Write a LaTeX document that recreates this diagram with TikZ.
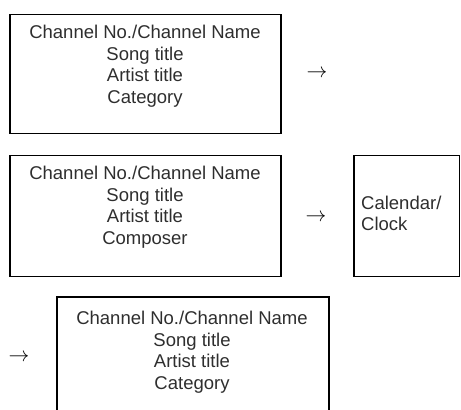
\documentclass[tikz,border=0pt]{standalone}
\usepackage{fontspec}
\setmainfont{Liberation Sans}
\begin{document}
\begin{tikzpicture}[x=1pt,y=-1pt,
  framebox/.style={draw=black,line width=1.9pt,rectangle,inner sep=0pt,anchor=north west},
  infotext/.style={inner sep=0pt,align=center,anchor=north,text=black!82,font=\fontsize{18.5}{21.7}\selectfont},
  sidetext/.style={inner sep=0pt,align=left,anchor=north west,text=black!82,font=\fontsize{18.5}{21}\selectfont},
  arrowsign/.style={inner sep=0pt,text=black,font=\fontsize{20}{22}\selectfont}]
\useasboundingbox (0,0) rectangle (461,410);
\clip (0,0) rectangle (461,410);
% boxes
\node[framebox,minimum width=271pt,minimum height=119pt] (b1) at (9.3,13.5) {};
\node[framebox,minimum width=271pt,minimum height=121pt] (b2) at (9.3,154.5) {};
\node[framebox,minimum width=105.5pt,minimum height=121pt] (b3) at (353,154.5) {};
\node[framebox,minimum width=272pt,minimum height=140pt] (b4) at (55.7,296) {};
% texts
\node[infotext] (t1) at (145,24.8) {Channel No./Channel Name\\Song title\\Artist title\\Category};
\node[infotext] (t2) at (145,165.8) {Channel No./Channel Name\\Song title\\Artist title\\Composer};
\node[sidetext] (t3) at (361,195.8) {Calendar/\\Clock};
\node[infotext] (t4) at (192,310.8) {Channel No./Channel Name\\Song title\\Artist title\\Category};
% arrows
\node[arrowsign] (a1) at (317,74) {$\rightarrow$};
\node[arrowsign] (a2) at (316,218) {$\rightarrow$};
\node[arrowsign] (a3) at (19,358) {$\rightarrow$};
\end{tikzpicture}
\end{document}
